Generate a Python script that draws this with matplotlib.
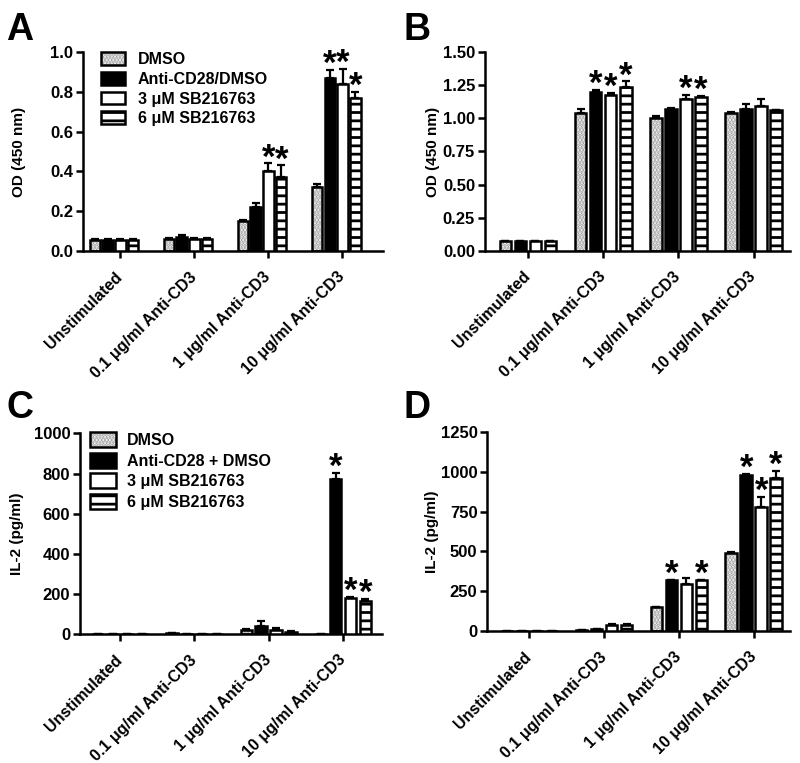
import numpy as np
import matplotlib
matplotlib.use('Agg')
import matplotlib.pyplot as plt
from matplotlib.patches import Patch

# --- style ---
plt.rcParams['font.family'] = ['Liberation Sans', 'DejaVu Sans']
plt.rcParams['font.weight'] = 'bold'
plt.rcParams['axes.labelweight'] = 'bold'
plt.rcParams['hatch.linewidth'] = 2.0

# --- data ---
groups = ['Unstimulated', '0.1 μg/ml Anti-CD3', '1 μg/ml Anti-CD3', '10 μg/ml Anti-CD3']
treat_ab = ['DMSO', 'Anti-CD28/DMSO', '3 μM SB216763', '6 μM SB216763']
treat_cd = ['DMSO', 'Anti-CD28 + DMSO', '3 μM SB216763', '6 μM SB216763']

# rows = stimulation group, cols = treatment
a_mean = [[0.055, 0.055, 0.055, 0.055],
          [0.06, 0.07, 0.06, 0.06],
          [0.15, 0.22, 0.40, 0.37],
          [0.32, 0.87, 0.84, 0.77]]
a_err = [[0.004, 0.004, 0.004, 0.004],
         [0.004, 0.008, 0.004, 0.004],
         [0.004, 0.02, 0.04, 0.06],
         [0.015, 0.04, 0.075, 0.03]]
a_stars = [(2, 2), (2, 3), (3, 1), (3, 2), (3, 3)]

b_mean = [[0.07, 0.07, 0.07, 0.07],
          [1.04, 1.20, 1.18, 1.24],
          [1.00, 1.07, 1.15, 1.16],
          [1.04, 1.07, 1.09, 1.06]]
b_err = [[0.003, 0.003, 0.003, 0.003],
         [0.03, 0.015, 0.015, 0.04],
         [0.015, 0.01, 0.025, 0.01],
         [0.005, 0.04, 0.06, 0.0]]
b_stars = [(1, 1), (1, 2), (1, 3), (2, 2), (2, 3)]

c_mean = [[1, 1, 1, 1],
          [3, 1, 1, 1],
          [18, 38, 20, 12],
          [2, 775, 180, 165]]
c_err = [[0, 0, 0, 0],
         [0, 0, 0, 0],
         [5, 25, 12, 5],
         [0, 30, 4, 10]]
c_stars = [(3, 1), (3, 2), (3, 3)]

d_mean = [[0, 0, 0, 0],
          [4, 12, 38, 40],
          [150, 320, 295, 317],
          [490, 980, 780, 960]]
d_err = [[0, 0, 0, 0],
         [0, 2, 3, 3],
         [3, 3, 40, 5],
         [3, 6, 60, 45]]
d_stars = [(2, 1), (2, 3), (3, 1), (3, 2), (3, 3)]

LW = 1.8
DOT = '#a0a0a0'


def draw_bars(ax, mean, err, stars, step, width, offset):
    mean = np.array(mean, dtype=float)
    err = np.array(err, dtype=float)
    idx = np.arange(len(groups))
    for j in range(4):
        x = idx + offset + (j - 1.5) * step
        if j == 0:
            # stippled fill, then outline on top
            ax.bar(x, mean[:, j], width, color='white', edgecolor=DOT,
                   hatch='.....', linewidth=0, zorder=2)
            ax.bar(x, mean[:, j], width, fill=False, edgecolor='black',
                   linewidth=LW, zorder=3)
        elif j == 1:
            ax.bar(x, mean[:, j], width, color='black', edgecolor='black',
                   linewidth=LW, zorder=3)
        elif j == 2:
            ax.bar(x, mean[:, j], width, color='white', edgecolor='black',
                   linewidth=LW, zorder=3)
        else:
            ax.bar(x, mean[:, j], width, color='white', edgecolor='black',
                   hatch='--', linewidth=LW, zorder=3)
        ax.errorbar(x, mean[:, j], yerr=[np.zeros(len(x)), err[:, j]], fmt='none',
                    ecolor='black', elinewidth=1.6, capsize=3.2, capthick=1.6, zorder=4)
    for g, t in stars:
        xs = g + offset + (t - 1.5) * step
        ax.annotate('*', (xs, mean[g, t] + err[g, t]), xytext=(0, -8),
                    textcoords='offset points', ha='center', va='bottom',
                    fontsize=25, fontweight='bold', zorder=5)


def style_axes(ax, ylim, yticks, fmt, ylabel, xlim, label_x):
    ax.set_xlim(*xlim)
    ax.set_ylim(*ylim)
    ax.set_yticks(yticks)
    ax.set_yticklabels([fmt.format(v) for v in yticks], fontsize=12)
    ax.set_xticks(np.arange(len(groups)))
    ax.set_xticklabels(groups, rotation=45, ha='right', va='center',
                       rotation_mode='anchor', fontsize=11.5)
    for s in ['top', 'right']:
        ax.spines[s].set_visible(False)
    for s in ['left', 'bottom']:
        ax.spines[s].set_linewidth(LW)
    ax.tick_params(width=LW, length=5, direction='out')
    ax.tick_params(axis='x', pad=12)
    ax.tick_params(axis='y', pad=2)
    ax.set_ylabel(ylabel, fontsize=11, fontweight='bold')
    ax.yaxis.set_label_coords(label_x, 0.5)


fig = plt.figure(figsize=(8, 7.63), dpi=100)

ax_a = fig.add_axes([0.104, 0.671, 0.375, 0.261])
ax_b = fig.add_axes([0.606, 0.6715, 0.382, 0.260])
ax_c = fig.add_axes([0.100, 0.169, 0.378, 0.263])
ax_d = fig.add_axes([0.609, 0.173, 0.379, 0.261])

draw_bars(ax_a, a_mean, a_err, a_stars, 0.173, 0.14, -0.085)
style_axes(ax_a, (0, 1.0), [0, 0.2, 0.4, 0.6, 0.8, 1.0], '{:.1f}',
           'OD (450 nm)', (-0.5, 3.55), -0.19)

draw_bars(ax_b, b_mean, b_err, b_stars, 0.2, 0.155, 0.0)
style_axes(ax_b, (0, 1.5), [0, 0.25, 0.5, 0.75, 1.0, 1.25, 1.5], '{:.2f}',
           'OD (450 nm)', (-0.573, 3.49), -0.148)

draw_bars(ax_c, c_mean, c_err, c_stars, 0.2, 0.155, 0.0)
style_axes(ax_c, (0, 1000), [0, 200, 400, 600, 800, 1000], '{:d}',
           'IL-2 (pg/ml)', (-0.538, 3.53), -0.185)

draw_bars(ax_d, d_mean, d_err, d_stars, 0.2, 0.155, 0.0)
style_axes(ax_d, (0, 1250), [0, 250, 500, 750, 1000, 1250], '{:d}',
           'IL-2 (pg/ml)', (-0.562, 3.49), -0.158)


def legend_handles():
    dmso = (Patch(facecolor='white', edgecolor=DOT, hatch='.....', linewidth=0),
            Patch(fill=False, edgecolor='black', linewidth=LW))
    cd28 = Patch(facecolor='black', edgecolor='black', linewidth=LW)
    sb3 = Patch(facecolor='white', edgecolor='black', linewidth=LW)
    sb6 = Patch(facecolor='white', edgecolor='black', hatch='--', linewidth=LW)
    return [dmso, cd28, sb3, sb6]


leg_font = {'weight': 'bold', 'size': 11.5}
fig.legend(legend_handles(), treat_ab, loc='upper left', frameon=False,
           bbox_to_anchor=(101 / 800, 1 - 52 / 763), borderpad=0, borderaxespad=0,
           handlelength=1.5, handleheight=0.85, handletextpad=0.8,
           labelspacing=0.3, prop=leg_font)
fig.legend(legend_handles(), treat_cd, loc='upper left', frameon=False,
           bbox_to_anchor=(90 / 800, 1 - 432 / 763), borderpad=0, borderaxespad=0,
           handlelength=1.65, handleheight=1.1, handletextpad=0.65,
           labelspacing=0.28, prop=leg_font)

# panel letters
for letter, x, y in [('A', 0.008, 1 - 40 / 763), ('B', 0.505, 1 - 40 / 763),
                     ('C', 0.008, 1 - 418 / 763), ('D', 0.505, 1 - 418 / 763)]:
    fig.text(x, y, letter, fontsize=27, fontweight='bold', va='baseline', ha='left')

fig.savefig('out.png', dpi=100)
